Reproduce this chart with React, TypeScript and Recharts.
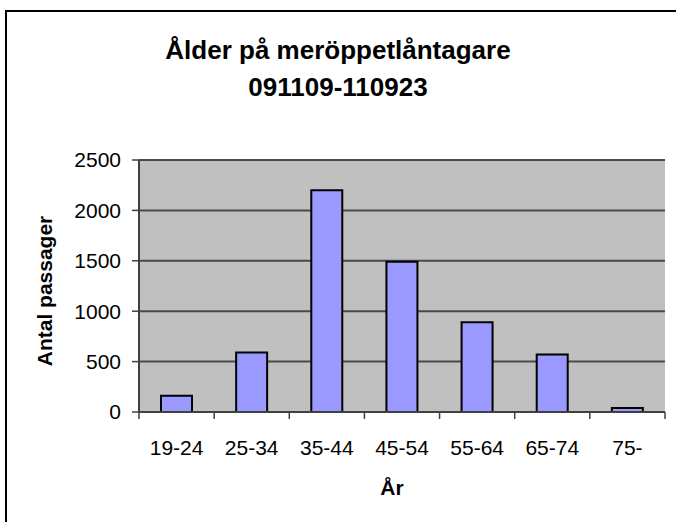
import { BarChart, Bar, XAxis, YAxis, CartesianGrid } from 'recharts';

const AGE_GROUPS = ['19-24', '25-34', '35-44', '45-54', '55-64', '65-74', '75-'];
const PASSAGES = [160, 590, 2200, 1490, 890, 570, 40];
const Y_TICKS = [0, 500, 1000, 1500, 2000, 2500];

const data = AGE_GROUPS.map((age, i) => ({ age, value: PASSAGES[i] }));

const W = 676;
const H = 522;
const Y_AXIS_W = 139;
const MARGIN = { top: 160, right: 11, left: 0, bottom: 50 };
const BAND = (W - MARGIN.right - Y_AXIS_W) / AGE_GROUPS.length;
const AXIS_COLOR = '#404040';
const FONT = '"Liberation Sans", Arial, sans-serif';

// Excel puts x ticks between the categories, not under them
function AgeTick(props: any) {
  const { x, y, payload, index } = props;
  const left = x - BAND / 2;
  const isLast = index === AGE_GROUPS.length - 1;
  return (
    <g>
      <line x1={left} y1={y} x2={left} y2={y + 7} stroke={AXIS_COLOR} strokeWidth={1.5} />
      {isLast && (
        <line x1={x + BAND / 2} y1={y} x2={x + BAND / 2} y2={y + 7} stroke={AXIS_COLOR} strokeWidth={1.5} />
      )}
      <text x={x} y={y + 43} textAnchor="middle" fill="#000" fontSize={21} fontFamily={FONT}>
        {payload.value}
      </text>
    </g>
  );
}

export default function App() {
  return (
    <div
      style={{
        position: 'absolute',
        left: 0,
        top: 0,
        width: W,
        height: H,
        overflow: 'hidden',
        background: '#fff',
        fontFamily: FONT,
      }}
    >
      <div
        style={{
          position: 'absolute',
          left: 5,
          top: 10,
          width: 700,
          height: 600,
          borderTop: '2px solid #000',
          borderLeft: '2px solid #000',
        }}
      />
      <div
        style={{
          position: 'absolute',
          left: 0,
          top: 32,
          width: W,
          textAlign: 'center',
          fontWeight: 'bold',
          fontSize: 26,
          lineHeight: '37px',
          color: '#000',
        }}
      >
        Ålder på meröppetlåntagare
        <br />
        091109-110923
      </div>
      <div
        style={{
          position: 'absolute',
          left: 45,
          top: 291,
          transform: 'translate(-50%, -50%) rotate(-90deg)',
          fontWeight: 'bold',
          fontSize: 21,
          whiteSpace: 'nowrap',
          color: '#000',
        }}
      >
        Antal passager
      </div>
      <div
        style={{
          position: 'absolute',
          left: 392,
          top: 488,
          transform: 'translate(-50%, -50%)',
          fontWeight: 'bold',
          fontSize: 21,
          color: '#000',
        }}
      >
        År
      </div>
      <div style={{ position: 'absolute', left: 0, top: 0 }}>
        <BarChart width={W} height={H} data={data} margin={MARGIN} barSize={31}>
          <CartesianGrid vertical={false} stroke="#4a4a4a" strokeWidth={2} fill="#C0C0C0" />
          <XAxis
            dataKey="age"
            height={60}
            tickLine={false}
            tickSize={0}
            tickMargin={0}
            interval={0}
            axisLine={{ stroke: AXIS_COLOR, strokeWidth: 2 }}
            tick={<AgeTick />}
          />
          <YAxis
            width={Y_AXIS_W}
            domain={[0, 2500]}
            ticks={Y_TICKS}
            interval={0}
            tickSize={7}
            tickMargin={11}
            axisLine={{ stroke: AXIS_COLOR, strokeWidth: 2 }}
            tickLine={{ stroke: AXIS_COLOR, strokeWidth: 1.5 }}
            tick={{ fill: '#000', fontSize: 21, fontFamily: FONT }}
          />
          <YAxis
            yAxisId="frame"
            orientation="right"
            width={0}
            domain={[0, 2500]}
            tick={false}
            tickLine={false}
            axisLine={{ stroke: '#808080', strokeWidth: 2 }}
          />
          <Bar
            dataKey="value"
            fill="#9999FF"
            stroke="#000"
            strokeWidth={2}
            isAnimationActive={false}
          />
        </BarChart>
      </div>
    </div>
  );
}
